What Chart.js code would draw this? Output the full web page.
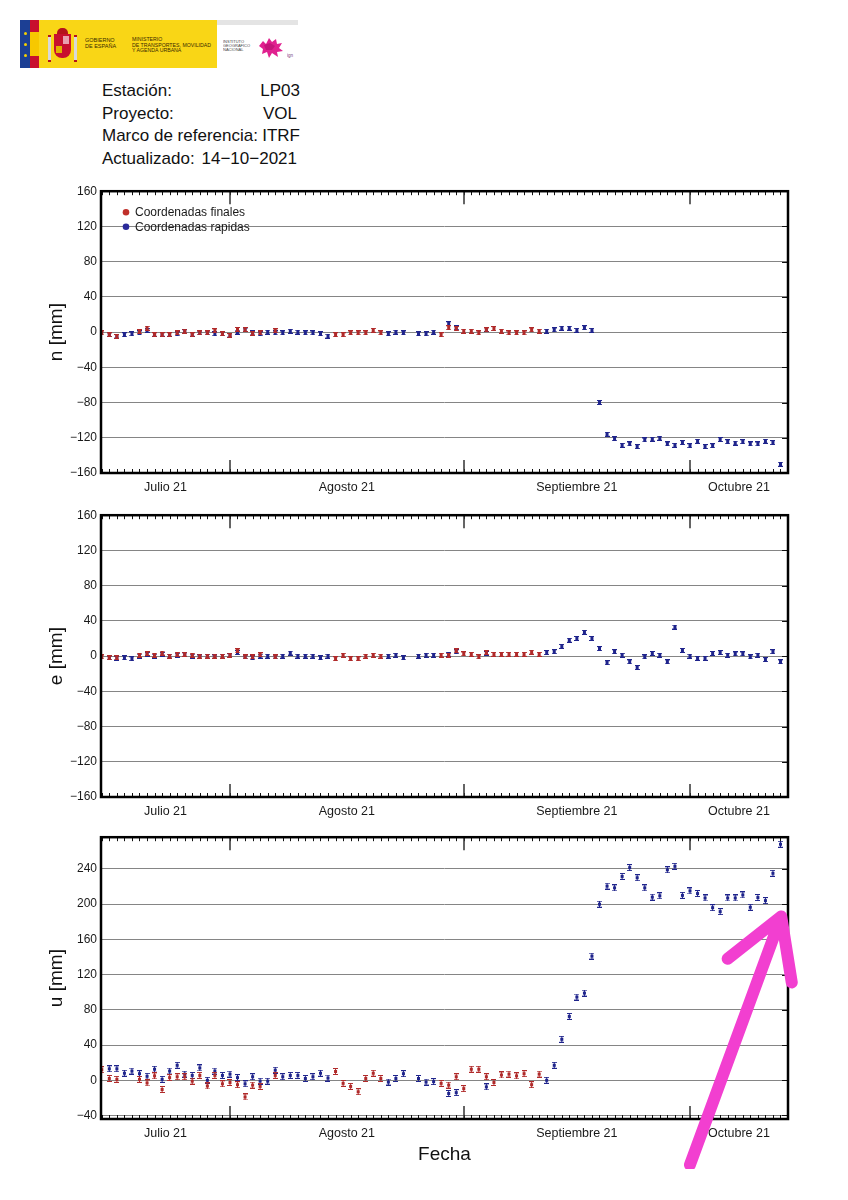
<!DOCTYPE html>
<html>
<head>
<meta charset="utf-8">
<script src="https://cdn.jsdelivr.net/npm/chart.js@4.4.0/dist/chart.umd.min.js"></script>
<style>
  html, body { margin: 0; padding: 0; background: #fff; }
  body { width: 848px; height: 1200px; position: relative; overflow: hidden;
         font-family: "Liberation Sans", Arial, sans-serif; color: #111; }
  .abs { position: absolute; }
  .panel { position: absolute; left: 0; width: 848px; }
  #logo { left: 20px; top: 20px; width: 278px; height: 48px; background: #fff; overflow: hidden; }
  .tiny { position: absolute; transform-origin: 0 0; white-space: nowrap; font-size: 10px; line-height: 10px; }
  #info { left: 102px; top: 80px; width: 198px; font-size: 17px; line-height: 22.5px; color: #111; }
  #info .row { display: flex; justify-content: space-between; white-space: nowrap; }
</style>
</head>
<body>

<div id="logo" class="abs">
  <div class="abs" style="left:0;top:0;width:10px;height:48px;background:#1c3f94"></div>
  <div class="abs" style="left:4px;top:12px;width:3px;height:3px;border-radius:50%;background:#f5d000"></div>
  <div class="abs" style="left:4px;top:23px;width:3px;height:3px;border-radius:50%;background:#f5d000"></div>
  <div class="abs" style="left:4px;top:34px;width:3px;height:3px;border-radius:50%;background:#f5d000"></div>
  <div class="abs" style="left:10px;top:0;width:9px;height:48px;background:#c8102e"></div>
  <div class="abs" style="left:10px;top:12px;width:9px;height:24px;background:#f7c800"></div>
  <div class="abs" style="left:19px;top:0;width:178px;height:48px;background:#f9d616"></div>
  <!-- escudo simplificado -->
  <div class="abs" style="left:28px;top:15px;width:3px;height:23px;background:#d9d9d9;border-top:2px solid #b5121b;border-bottom:2px solid #b5121b"></div>
  <div class="abs" style="left:54px;top:15px;width:3px;height:23px;background:#d9d9d9;border-top:2px solid #b5121b;border-bottom:2px solid #b5121b"></div>
  <div class="abs" style="left:37px;top:8px;width:11px;height:6px;background:#b5121b;border-radius:5px 5px 0 0"></div>
  <div class="abs" style="left:34px;top:14px;width:17px;height:24px;background:#c8102e;border-radius:0 0 8px 8px"></div>
  <div class="abs" style="left:43px;top:16px;width:6px;height:8px;background:#e8a0b0"></div>
  <div class="abs" style="left:36px;top:26px;width:6px;height:7px;background:#e3b000"></div>
  <div class="tiny" style="left:65px;top:18px;transform:scale(0.55);color:#3a2a00">GOBIERNO<br>DE ESPAÑA</div>
  <div class="tiny" style="left:112px;top:17px;transform:scale(0.52);color:#3a2a00;line-height:10.5px">MINISTERIO<br>DE TRANSPORTES, MOVILIDAD<br>Y AGENDA URBANA</div>
  <div class="abs" style="left:197px;top:0;width:81px;height:5px;background:#e4e4e4"></div>
  <div class="tiny" style="left:203px;top:19px;transform:scale(0.4);color:#444;line-height:11px">INSTITUTO<br>GEOGRÁFICO<br>NACIONAL</div>
  <svg class="abs" style="left:237px;top:17px" width="28" height="22" viewBox="0 0 28 22">
    <path d="M2 9 L6 4 L9 7 L12 1 L15 5 L19 2 L20 7 L25 6 L22 11 L26 14 L20 15 L21 20 L15 16 L12 21 L10 15 L5 17 L6 12 Z" fill="#e0208f"/>
    <path d="M7 8 L13 6 L18 9 L15 13 L9 13 Z" fill="#c4157a"/>
  </svg>
  <div class="tiny" style="left:267px;top:33px;transform:scale(0.45);color:#7a3a7a">ign</div>
</div>

<div id="info" class="abs">
  <div class="row"><span>Estación:</span><span>LP03</span></div>
  <div class="row"><span>Proyecto:</span><span style="padding-right:3px">VOL</span></div>
  <div class="row"><span>Marco de referencia:</span><span>ITRF</span></div>
  <div class="row"><span>Actualizado:</span><span style="padding-right:3px">14−10−2021</span></div>
</div>

<div class="panel" style="top:180px;height:323px"><canvas id="chartN"></canvas></div>
<div class="panel" style="top:504px;height:323px"><canvas id="chartE"></canvas></div>
<div class="panel" style="top:826px;height:343px"><canvas id="chartU"></canvas></div>

<script>
// days counted from 1 July 2021 (Aug 1 = 31, Sep 1 = 62, Oct 1 = 92)
const xMin = 13.9;
const xMax = 105.0;
const monthStarts = [31, 62, 92];
const monthLabels = ['Julio 21', 'Agosto 21', 'Septiembre 21', 'Octubre 21'];

const nTicks = [-160, -120, -80, -40, 0, 40, 80, 120, 160];
const eTicks = [-160, -120, -80, -40, 0, 40, 80, 120, 160];
const uTicks = [-40, 0, 40, 80, 120, 160, 200, 240];

// Coordenadas finales (rojo)
const finalDays = [14, 15, 16, 19, 20, 21, 22, 23, 24, 25, 26, 27, 28, 29, 30, 31, 32, 33, 34, 35, 37,
                   45, 46, 47, 48, 49, 50, 51,
                   59, 60, 61, 62, 63, 64, 65, 66, 67, 68, 69, 70, 71, 72];
const finalN = [-1, -3, -5, 0.5, 4.5, -3, -3, -3, -1, 1, -3, -1, -1, 1.5, -2, -4, 3, 3, -1.5, -1, 1.5,
                -3, -3, -1, -1, -1, 2, -1,
                -3, 5, 4, 1, 1, -1, 2.5, 4, 1, -1, -1, -1, 2.5, 1];
const finalE = [-1, -2, -2, 1, 3, 1, 3.5, 0, 2, 2, 1, 0, 0, 0, 0, 1, 6, -1, -1, 1.5, -1,
                -3, 1, -3, -3, 0, 1, 0,
                1, 1, 6, 2.5, 2, -1, 4, 2, 2, 2, 2, 2, 4.5, 2];
const finalU = [12, 2, 1, 1, -3, 5, -10.5, 3, 4, 4, -1, 5.5, -6.5, 5.5, -4, -2.5, -5, -19, -5.5, -7, 5.5,
                10, -3.5, -7, -13, 2, 8, 2,
                -3.5, -5.5, 4, -9.5, 12.5, 12.5, 4, -2.5, 6, 7, 5, 7.5, -5, 7];

// Coordenadas rapidas (azul)
const rapidDays = [15, 16, 17, 18, 19, 20, 21, 22, 23, 24, 25, 26, 27, 28, 29, 30, 31, 32, 33, 34, 35, 36, 37,
                   38, 39, 40, 41, 42, 43, 44,
                   52, 53, 54, 56, 57, 58, 60, 61, 65,
                   73, 74, 75, 76, 77, 78, 79, 80, 81, 82, 83, 84, 85, 86, 87, 88, 89, 90,
                   91, 92, 93, 94, 95, 96, 97, 98, 99, 100, 101, 102, 103, 104];
const rapidN = [-3, -4.5, -3, -2, -1, 2, -2.5, -2.5, -2.5, -2, 0.5, -2.5, -1, -1, -2, -2, -3.5, 0, 2.5, -1, -2, 0, -1,
                -1, 1, 0, -1, -1, -2, -4.5,
                -2, 0, -1, -2, -2, 0, 9.5, 5, 3,
                1, 2.5, 4.5, 4.5, 2, 5, 2, -80, -116, -121, -128.5, -127, -130, -122.5, -121.5, -120.5, -127, -128.5,
                -125.5, -129, -124, -130, -129, -122, -124.5, -126, -124.5, -127, -127, -124, -125.5, -150];
const rapidE = [-2, -2.5, -2, -3, 0, 2, 0, 2, 0, 1, 1.5, 0, -1, 0, -1, 0, 0.5, 4, -1, -2, 0, 0, -1,
                0, 3.5, 0, 0, 0, -2, 0,
                0, 1, -2, 0, 1, 1, 2, 5, 3,
                4, 5, 11, 18, 20, 27, 20, 8.5, -7.5, 5, 1, -6.5, -13, -1, 3, 1, -6.5, 33,
                6.5, 0, -2.5, -2.5, 3, 4, 1, 2.5, 2.5, -1, 1, -4, 5, -6.5];
const rapidU = [13, 13, 8, 10.5, 7.5, 4.5, 12.5, 1, 10.5, 17, 7, 5.5, 14, 0, 10.5, 5.5, 7, 3, -4, 4, -1, -1, 11.5,
                4, 5.5, 5.5, 2, 4, 8, 2.5,
                -2, 2, 7.5, 2, -2, -1.5, -15, -14, -7.5,
                0, 17, 46.5, 72.5, 94.5, 99, 141, 200, 220.5, 218.5, 231.5, 241.5, 230, 218.5, 208, 209.5, 239, 243,
                210, 215, 212, 207, 196, 191.5, 207, 207, 210.5, 196.5, 207.5, 204, 235, 268];

// flecha rosa dibujada sobre el panel u (día, mm)
const arrowTail = [92.0, -96];
const arrowTip = [104.1, 186];
const arrowBarbs = [[97.0, 138], [105.5, 111]];

const FONT = '"Liberation Sans", Arial, sans-serif';
const RED = '#b02a2a';
const BLUE = '#1f248c';

Chart.defaults.font.family = FONT;
Chart.defaults.color = '#1a1a1a';

function toPoints(days, values) {
    return days.map((d, i) => ({ x: d, y: values[i] }));
}

// small marker with error bar caps
function errGlyph(color, w, h) {
    const c = document.createElement('canvas');
    c.width = w;
    c.height = h;
    const g = c.getContext('2d');
    g.fillStyle = color;
    const mid = Math.floor(w / 2);
    g.fillRect(0, 0, w, 1);
    g.fillRect(0, h - 1, w, 1);
    g.fillRect(mid, 0, 1, h);
    g.fillRect(mid - 1, Math.floor(h / 2) - 1, 3, 3);
    return c;
}

const framePlugin = {
    id: 'frame',
    afterDatasetsDraw(chart) {
        const { ctx, chartArea: a, scales: { x, y } } = chart;
        ctx.save();
        ctx.strokeStyle = '#111';
        ctx.lineWidth = 1;
        ctx.beginPath();
        for (let d = Math.ceil(x.min); d <= x.max; d++) {
            const px = Math.round(x.getPixelForValue(d)) + 0.5;
            ctx.moveTo(px, a.top);
            ctx.lineTo(px, a.top + 4);
            ctx.moveTo(px, a.bottom);
            ctx.lineTo(px, a.bottom - 4);
        }
        y.ticks.forEach(t => {
            const py = Math.round(y.getPixelForValue(t.value)) + 0.5;
            ctx.moveTo(a.right - 6, py);
            ctx.lineTo(a.right, py);
        });
        ctx.stroke();

        ctx.strokeStyle = '#333';
        ctx.lineWidth = 1.5;
        ctx.beginPath();
        monthStarts.forEach(m => {
            const px = Math.round(x.getPixelForValue(m));
            ctx.moveTo(px, a.top);
            ctx.lineTo(px, a.top + 13);
            ctx.moveTo(px, a.bottom);
            ctx.lineTo(px, a.bottom - 13);
        });
        ctx.stroke();

        ctx.strokeStyle = '#000';
        ctx.lineWidth = 2.5;
        ctx.strokeRect(a.left, a.top, a.right - a.left, a.bottom - a.top);
        ctx.restore();
    }
};

const legendPlugin = {
    id: 'insideLegend',
    afterDraw(chart) {
        const { ctx, chartArea: a } = chart;
        ctx.save();
        ctx.font = '12px ' + FONT;
        ctx.textBaseline = 'middle';
        chart.data.datasets.forEach((ds, i) => {
            const yy = a.top + 21 + i * 14.5;
            ctx.fillStyle = ds.legendColor;
            ctx.beginPath();
            ctx.arc(a.left + 25, yy, 3.3, 0, Math.PI * 2);
            ctx.fill();
            ctx.fillStyle = '#1a1a1a';
            ctx.fillText(ds.label, a.left + 34, yy + 0.5);
        });
        ctx.restore();
    }
};

const arrowPlugin = {
    id: 'arrow',
    afterDraw(chart) {
        const { ctx, scales: { x, y } } = chart;
        const p = v => [x.getPixelForValue(v[0]), y.getPixelForValue(v[1])];
        const tip = p(arrowTip);
        const tail = p(arrowTail);
        ctx.save();
        ctx.strokeStyle = '#f23fd0';
        ctx.lineWidth = 12;
        ctx.lineCap = 'round';
        ctx.lineJoin = 'round';
        ctx.beginPath();
        ctx.moveTo(tail[0], tail[1]);
        ctx.lineTo(tip[0], tip[1]);
        arrowBarbs.forEach(b => {
            const q = p(b);
            ctx.moveTo(tip[0], tip[1]);
            ctx.lineTo(q[0], q[1]);
        });
        ctx.stroke();
        ctx.restore();
    }
};

function makePanel(canvasId, opts) {
    const ctx = document.getElementById(canvasId);
    const plugins = [framePlugin];
    if (opts.legend) plugins.push(legendPlugin);
    if (opts.arrow) plugins.push(arrowPlugin);
    return new Chart(ctx, {
        type: 'scatter',
        data: {
            datasets: [{
                label: 'Coordenadas finales',
                data: toPoints(finalDays, opts.finals),
                pointStyle: errGlyph(RED, opts.gw, opts.gh),
                legendColor: '#c0302a'
            }, {
                label: 'Coordenadas rapidas',
                data: toPoints(rapidDays, opts.rapids),
                pointStyle: errGlyph(BLUE, opts.gw, opts.gh),
                legendColor: '#2a2a9a'
            }]
        },
        options: {
            responsive: true,
            maintainAspectRatio: false,
            animation: false,
            layout: { padding: { top: 10, right: 60, left: 0, bottom: 0 } },
            plugins: {
                legend: { display: false },
                tooltip: { enabled: false },
                title: { display: false }
            },
            scales: {
                x: {
                    type: 'linear',
                    min: xMin,
                    max: xMax,
                    afterBuildTicks: s => {
                        const edges = [s.min, ...monthStarts, s.max];
                        s.ticks = monthLabels.map((_, i) => ({ value: (edges[i] + edges[i + 1]) / 2 }));
                    },
                    afterFit: s => { s.height = opts.xh; },
                    ticks: {
                        autoSkip: false,
                        maxRotation: 0,
                        padding: 7,
                        font: { size: 12.5 },
                        color: '#1a1a1a',
                        callback: (v, i) => monthLabels[i]
                    },
                    grid: { display: false, drawTicks: false },
                    border: { display: false },
                    title: {
                        display: !!opts.xTitle,
                        text: opts.xTitle || '',
                        font: { size: 19 },
                        color: '#111',
                        padding: { top: 0, bottom: 3 }
                    }
                },
                y: {
                    min: opts.yMin,
                    max: opts.yMax,
                    afterBuildTicks: s => { s.ticks = opts.yTicks.map(v => ({ value: v })); },
                    afterFit: s => { s.width = 101; },
                    ticks: {
                        padding: 4,
                        font: { size: 12 },
                        color: '#1a1a1a',
                        callback: v => String(v).replace('-', '\u2212')
                    },
                    grid: { color: '#858585', lineWidth: 1, drawTicks: false },
                    border: { display: false },
                    title: {
                        display: true,
                        text: opts.yTitle,
                        font: { size: 19 },
                        color: '#111',
                        padding: { top: 45, bottom: 0 }
                    }
                }
            }
        },
        plugins: plugins
    });
}

makePanel('chartN', { finals: finalN, rapids: rapidN, yMin: -160, yMax: 160, yTicks: nTicks,
                      yTitle: 'n [mm]', xh: 30, gw: 5, gh: 5, legend: true });
makePanel('chartE', { finals: finalE, rapids: rapidE, yMin: -160, yMax: 160, yTicks: eTicks,
                      yTitle: 'e [mm]', xh: 30, gw: 5, gh: 5 });
makePanel('chartU', { finals: finalU, rapids: rapidU, yMin: -44, yMax: 276, yTicks: uTicks,
                      yTitle: 'u [mm]', xh: 50, gw: 5, gh: 7, xTitle: 'Fecha', arrow: true });
</script>
</body>
</html>
